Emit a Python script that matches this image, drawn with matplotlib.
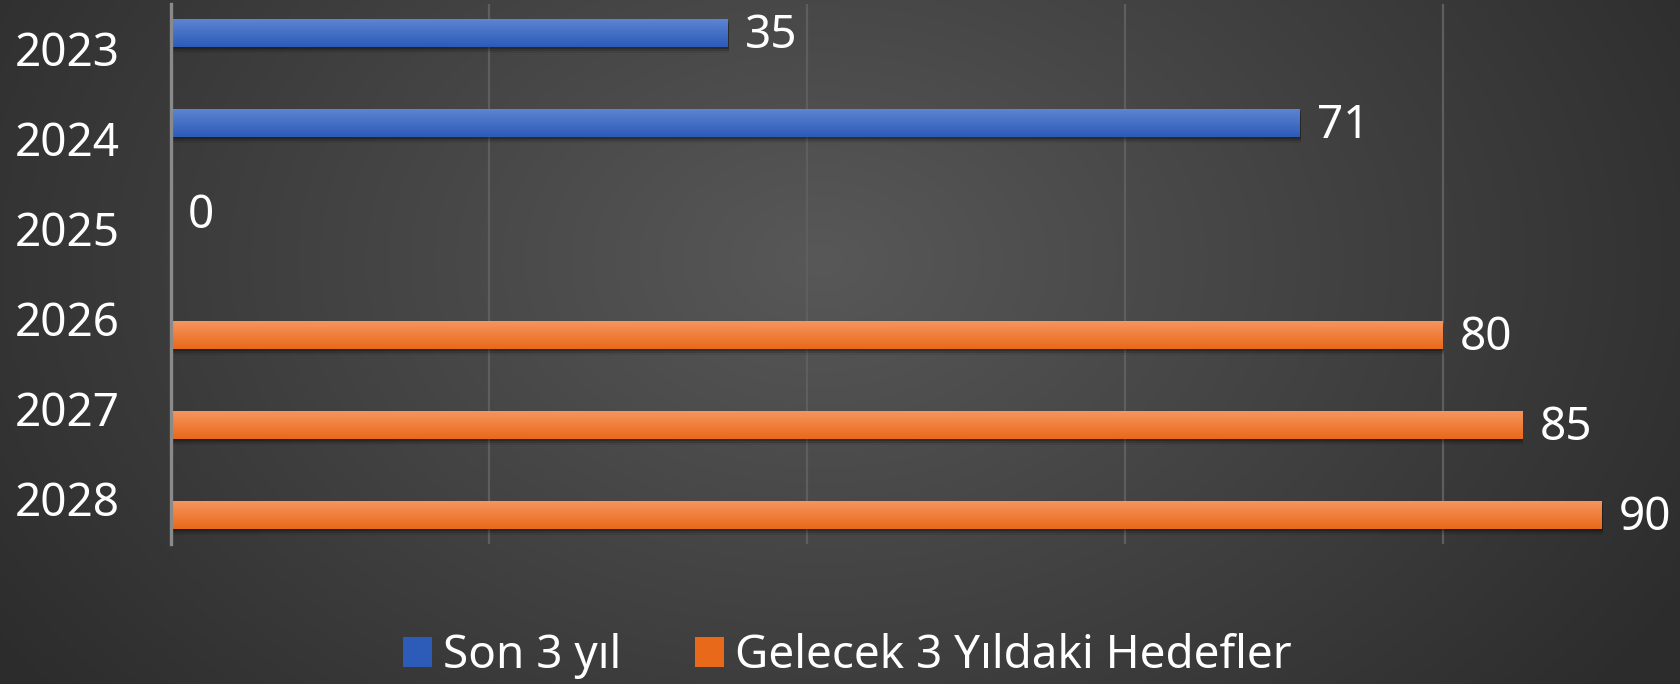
import matplotlib
matplotlib.use("Agg")
import matplotlib.pyplot as plt
import matplotlib.transforms as mtransforms
from matplotlib.patches import Rectangle
import numpy as np

# chart data
YEARS = ["2023", "2024", "2025", "2026", "2027", "2028"]
SON_3_YIL = [35, 71, 0, None, None, None]      # blue series
HEDEFLER = [None, None, None, 80, 85, 90]      # orange series
SERIES_NAMES = ["Son 3 yıl", "Gelecek 3 Yıldaki Hedefler"]

W, H, DPI = 1681, 684, 100
FONT = ["Noto Sans", "DejaVu Sans"]
FS = 33

BLUE = ("#5d84d3", "#2c5bb8")    # top, bottom of the gradient
ORANGE = ("#f5955f", "#e9691a")

plt.rcParams["font.family"] = FONT

fig = plt.figure(figsize=(W / DPI, H / DPI), dpi=DPI)

# dark radial background
bg = fig.add_axes([0, 0, 1, 1], zorder=-10)
yy, xx = np.mgrid[0:H, 0:W]
r = np.clip(np.hypot((xx - 820) / 1000, (yy - 260) / 700), 0, 1)
shade = (88 - 44 * r) / 255
bg.imshow(np.dstack([shade, shade, shade]), aspect="auto", extent=[0, 1, 0, 1])
bg.set_axis_off()

ax = fig.add_axes([171 / W, (H - 544) / H, (W - 171) / W, 540 / H])
ax.patch.set_alpha(0)

px_per_unit = 15.9
xmax = (W - 171) / px_per_unit
offset = 16 / 90     # slot offset from the category centre
bar_h = 28 / 90

y = np.arange(len(YEARS))


def grad_bars(values, dy, colors):
    ys, ws = [], []
    for yi, v in zip(y, values):
        if v is None:
            continue
        ys.append(yi + dy)
        ws.append(v)
    # soft shadow underneath
    for k, a in [(2, 0.22), (4, 0.14), (6, 0.08)]:
        shift = mtransforms.ScaledTranslation(1 / DPI, -k / DPI, fig.dpi_scale_trans)
        ax.barh(ys, ws, height=bar_h, color="black", alpha=a, linewidth=0,
                transform=ax.transData + shift, zorder=2)
    bars = ax.barh(ys, ws, height=bar_h, color=colors[1], linewidth=0, zorder=3)
    top = np.array(matplotlib.colors.to_rgb(colors[0]))
    bot = np.array(matplotlib.colors.to_rgb(colors[1]))
    t = np.linspace(0, 1, 64)[:, None]
    grad = (top * (1 - t) + bot * t)[:, None, :]
    for b in bars:
        if b.get_width() <= 0:
            continue
        x0, y0 = b.get_x(), b.get_y()
        im = ax.imshow(grad, aspect="auto", origin="upper", zorder=3.5,
                       extent=[x0, x0 + b.get_width(), y0 + bar_h, y0])
        im.set_clip_path(b)
    for yi, v in zip(ys, ws):
        ax.annotate(str(v), (v, yi), xytext=(17 * 72 / DPI, -2), textcoords="offset points",
                    ha="left", va="center", color="white", fontsize=FS, zorder=5)


grad_bars(SON_3_YIL, -offset, BLUE)
grad_bars(HEDEFLER, offset, ORANGE)

ax.set_xlim(0, xmax)
ax.set_ylim(len(YEARS) - 0.5, -0.5)
ax.set_xticks([20, 40, 60, 80])
ax.set_xticklabels([])
ax.tick_params(axis="x", length=0)
ax.grid(axis="x", color="#5e5e5e", linewidth=1.6, zorder=0)
ax.set_axisbelow(True)

ax.set_yticks(y)
ax.set_yticklabels(YEARS, color="white", fontsize=FS)
ax.tick_params(axis="y", length=0, pad=51 * 72 / DPI)

for side in ["top", "right", "bottom"]:
    ax.spines[side].set_visible(False)
ax.spines["left"].set_color("#8a8a8a")
ax.spines["left"].set_linewidth(2.4)
ax.spines["left"].set_zorder(6)

handles = [Rectangle((0, 0), 1, 1, color=BLUE[1], linewidth=0),
           Rectangle((0, 0), 1, 1, color=ORANGE[1], linewidth=0)]
fig.legend(handles, SERIES_NAMES, loc="center", bbox_to_anchor=(0.504, 1 - 656 / H),
           ncol=2, frameon=False, fontsize=FS, labelcolor="white",
           handlelength=0.63, handleheight=0.63, handletextpad=0.25, columnspacing=1.6)

fig.savefig("out.png", dpi=DPI)
